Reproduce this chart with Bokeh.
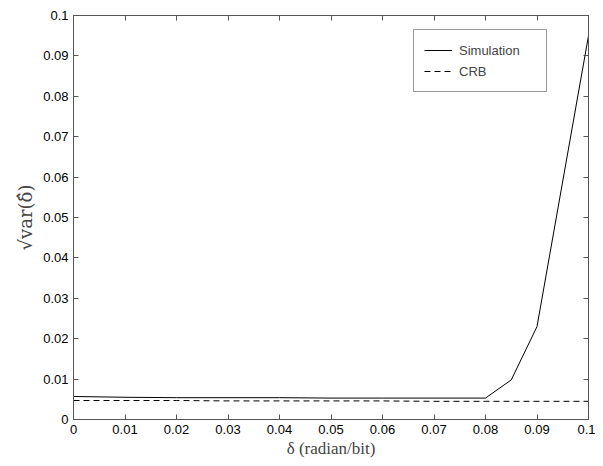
from bokeh.plotting import figure
from bokeh.models import LinearAxis, FixedTicker, Legend, LegendItem, Range1d
from bokeh.embed import file_html
from bokeh.resources import INLINE

delta = [0.0, 0.01, 0.02, 0.03, 0.04, 0.05, 0.06, 0.07, 0.08, 0.085, 0.09, 0.1]
sim = [0.0057, 0.0055, 0.0054, 0.0054, 0.0054, 0.0053, 0.0053, 0.0053, 0.0053, 0.0098, 0.023, 0.095]
crb_x = [0.0, 0.01, 0.02, 0.03, 0.04, 0.05, 0.06, 0.07, 0.08, 0.09, 0.1]
crb = [0.0047, 0.0047, 0.0047, 0.0046, 0.0046, 0.0046, 0.0046, 0.0045, 0.0045, 0.0045, 0.0045]
ticks = [0, 0.01, 0.02, 0.03, 0.04, 0.05, 0.06, 0.07, 0.08, 0.09, 0.1]
tick_labels = {0: "0", 0.01: "0.01", 0.02: "0.02", 0.03: "0.03", 0.04: "0.04", 0.05: "0.05",
               0.06: "0.06", 0.07: "0.07", 0.08: "0.08", 0.09: "0.09", 0.1: "0.1"}

p = figure(width=595, height=458, output_backend="svg", toolbar_location=None,
           x_range=Range1d(0, 0.1), y_range=Range1d(0, 0.1),
           frame_width=515, frame_height=404,
           min_border_left=73, min_border_right=7, min_border_top=15, min_border_bottom=39)
p.background_fill_color = "white"
p.border_fill_color = "white"
p.outline_line_color = None
p.xgrid.visible = False
p.ygrid.visible = False

r1 = p.line(delta, sim, line_color="black", line_width=1)
r2 = p.line(crb_x, crb, line_color="black", line_width=1, line_dash="6 4")

def style(ax, labels=True):
    ax.ticker = FixedTicker(ticks=ticks)
    ax.major_label_overrides = tick_labels
    ax.major_tick_in = 5
    ax.major_tick_out = 0
    ax.minor_tick_in = 0
    ax.minor_tick_out = 0
    ax.axis_line_color = "#555555"
    ax.major_tick_line_color = "#555555"
    ax.major_label_text_font = "Liberation Sans"
    ax.major_label_text_font_size = "13px"
    ax.major_label_text_color = "black" if labels else None
    ax.major_label_standoff = 5

for ax in p.xaxis + p.yaxis:
    style(ax)

p.xaxis.axis_label = "δ (radian/bit)"
p.xaxis.axis_label_text_font = "Liberation Serif"
p.xaxis.axis_label_text_font_style = "normal"
p.xaxis.axis_label_text_font_size = "17px"
p.xaxis.axis_label_standoff = 2
p.yaxis.axis_label = "√var(δ̂)"
p.yaxis.axis_label_text_font = "DejaVu Serif"
p.yaxis.axis_label_text_font_style = "normal"
p.yaxis.axis_label_text_font_size = "18px"
p.yaxis.axis_label_standoff = 4

top = LinearAxis()
style(top, labels=False)
top.major_label_text_font_size = "0px"
p.add_layout(top, "above")
right = LinearAxis()
style(right, labels=False)
right.major_label_text_font_size = "0px"
p.add_layout(right, "right")

legend = Legend(items=[LegendItem(label="Simulation", renderers=[r1]),
                       LegendItem(label="CRB", renderers=[r2])],
                location=(340, 327))
legend.label_text_font = "Liberation Sans"
legend.label_text_font_size = "13px"
legend.border_line_color = "#333333"
legend.border_line_width = 1
legend.glyph_width = 28
legend.glyph_height = 20
legend.label_standoff = 7
legend.label_width = 77
legend.padding = 10
legend.spacing = 1
legend.margin = 0
legend.label_height = 20
p.add_layout(legend, "center")

open("out.html", "w").write(file_html(p, INLINE))
